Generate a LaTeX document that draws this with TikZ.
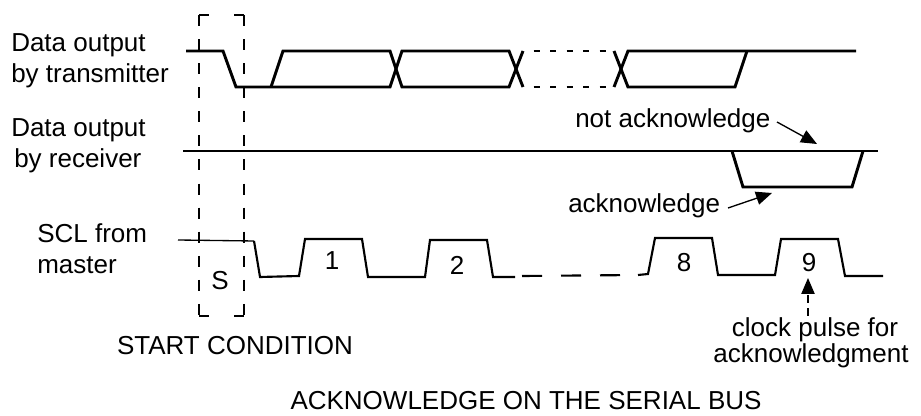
\documentclass[tikz,border=0pt]{standalone}
\usepackage{fontspec}
\setmainfont{Liberation Sans}
\usetikzlibrary{arrows.meta}
\begin{document}
\begin{tikzpicture}[x=0.75pt,y=-0.75pt,
  sig/.style={line width=2.2pt, line join=miter},
  clk/.style={line width=1.6pt, line join=miter},
  thin/.style={line width=1pt},
  dotsig/.style={line width=2.2pt, dash pattern=on 4.5pt off 7.9pt, dash phase=4.5pt},
  clkdash/.style={line width=1.6pt, dash pattern=on 15pt off 14.25pt},
  boxv/.style={line width=1.5pt, dash pattern=on 8.25pt off 9.81pt},
  boxh/.style={line width=1.5pt, dash pattern=on 7.5pt off 18.75pt},
  lbl/.style={inner sep=0pt, font=\fontsize{19.5}{23}\selectfont, anchor=base west},
  ctr/.style={inner sep=0pt, font=\fontsize{19.5}{23}\selectfont, anchor=base},
  pointer/.style={line width=1pt, -{Triangle[length=12pt,width=10pt]}},
  dpointer/.style={line width=1pt, dash pattern=on 6pt off 4pt, -{Triangle[length=12pt,width=10pt]}}]
\useasboundingbox (0,0) rectangle (921,416);

% left labels
\node[lbl] (t1) at (11,52) {Data output};
\node[lbl] (t2) at (11,83) {by transmitter};
\node[lbl] (r1) at (11,137) {Data output};
\node[lbl] (r2) at (14,168) {by receiver};
\node[lbl] (c1) at (37,243) {SCL from};
\node[lbl] (c2) at (37,274) {master};

% start condition box
\coordinate (b1) at (199,15);
\coordinate (b2) at (244,15);
\coordinate (b3) at (244,316);
\coordinate (b4) at (199,316);
\draw[boxh] (b1) -- (b2);
\draw[boxh] (b4) -- (b3);
\draw[boxv] (b1) -- (b4);
\draw[boxv] (b2) -- (b3);

% data output by transmitter
\draw[sig] (186,51) -- (223,51) -- (236,87) -- (390,87) -- (402,51) -- (509,51) -- (523,87);
\draw[sig] (271,87) -- (283,51) -- (390,51) -- (402,87) -- (509,87) -- (523,51);
\draw[dotsig] (523,51) -- (614,51);
\draw[dotsig] (523,87) -- (614,87);
\draw[sig] (614,51) -- (628,87) -- (735,87) -- (747,51);
\draw[sig] (614,87) -- (628,51) -- (856,51);

% data output by receiver
\draw[sig] (183,151) -- (878,151);
\draw[sig] (732,151) -- (743,187) -- (852,187) -- (863,151);

% SCL
\draw[thin] (178,240) -- (254,241);
\draw[clk] (254,241) -- (260,277) -- (299,276) -- (305,239) -- (362,239) -- (368,277)
  -- (425,277) -- (430,240) -- (487,240) -- (493,277) -- (515,277);
\draw[clkdash] (522,276) -- (638,275);
\draw[clk] (638,275) -- (648,274) -- (655,238) -- (712,238) -- (718,275) -- (775,275)
  -- (781,239) -- (838,239) -- (845,276) -- (883,276);

% pulse numbers
\node[ctr] (s) at (220,290) {S};
\node[ctr] (n1) at (332,270) {1};
\node[ctr] (n2) at (457,275) {2};
\node[ctr] (n8) at (684,272) {8};
\node[ctr] (n9) at (809,272) {9};

% annotations
\node[lbl] (nack) at (575,128) {not acknowledge};
\node[lbl] (ack) at (568,213) {acknowledge};
\coordinate (nackS) at (777,122);
\coordinate (nackT) at (817,144);
\coordinate (ackS) at (728,208);
\coordinate (ackT) at (772,193);
\draw[pointer] (nackS) -- (nackT);
\draw[pointer] (ackS) -- (ackT);

\node[ctr] (cp1) at (815,337) {clock pulse for};
\node[ctr] (cp2) at (811,363) {acknowledgment};
\coordinate (cpS) at (808,316);
\coordinate (cpT) at (808,278);
\draw[dpointer] (cpS) -- (cpT);

\node[ctr] (sc) at (235,355) {START CONDITION};
\node[ctr] (title) at (526,410) {ACKNOWLEDGE ON THE SERIAL BUS};
\end{tikzpicture}
\end{document}
